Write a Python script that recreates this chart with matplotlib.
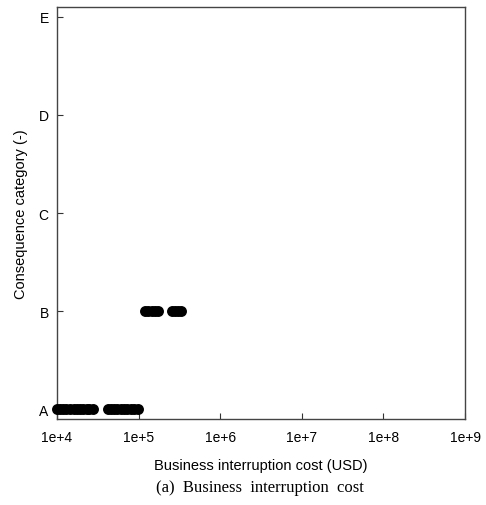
import numpy as np
import matplotlib
matplotlib.use("Agg")
import matplotlib.pyplot as plt

# business interruption cost (USD) per consequence category
cost_a = [10000, 11000, 12000, 13000, 14500, 16000, 17500, 19000, 21000,
          23000, 25000, 27500,
          42000, 46000, 50000, 55000, 60000, 66000, 72000, 80000, 88000, 97000]
cost_b = [120000, 132000, 145000, 158000, 172000,
          257000, 280000, 305000, 330000]
categories = ["A", "B", "C", "D", "E"]
xticks = [1e4, 1e5, 1e6, 1e7, 1e8, 1e9]
xtick_labels = ["1e+4", "1e+5", "1e+6", "1e+7", "1e+8", "1e+9"]

plt.rcParams["font.family"] = ["Liberation Sans", "DejaVu Sans"]

fig = plt.figure(figsize=(4.86, 5.06), dpi=100, facecolor="white")
ax = fig.add_axes([0.1173, 0.170, 0.8395, 0.814])

for cat, vals in zip(categories, [cost_a, cost_b]):
    y = categories.index(cat)
    ax.scatter(vals, [y] * len(vals), s=62, c="black", linewidths=0,
               clip_on=False, zorder=3)

ax.set_xscale("log")
ax.set_xlim(1e4, 1e9)
ax.set_ylim(-0.1, 4.1)
ax.set_xticks(xticks)
ax.set_xticklabels(xtick_labels)
ax.minorticks_off()
ax.set_yticks(range(len(categories)))
ax.set_yticklabels(categories)

ax.tick_params(axis="both", direction="in", length=4, width=0.8,
               color="#333333", labelsize=10)
ax.tick_params(axis="x", pad=8)
ax.tick_params(axis="y", pad=6)
for sp in ax.spines.values():
    sp.set_color("#444444")
    sp.set_linewidth(1.0)

ax.set_xlabel("Business interruption cost (USD)", fontsize=10.5, labelpad=10)
ax.set_ylabel("Consequence category (-)", fontsize=10.5, labelpad=8)

fig.text(0.535, 0.035, "(a)  Business  interruption  cost",
         ha="center", va="center", fontsize=12,
         family=["Liberation Serif", "DejaVu Serif"])

fig.savefig("out.png", dpi=100, facecolor="white")
